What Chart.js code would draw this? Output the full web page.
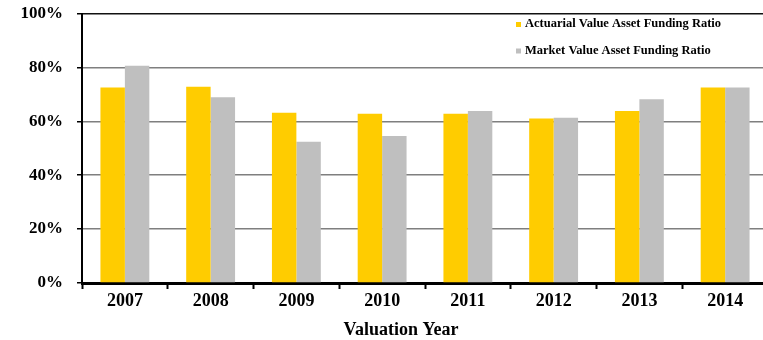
<!DOCTYPE html>
<html>
<head>
<meta charset="utf-8">
<script src="https://cdn.jsdelivr.net/npm/chart.js@4/dist/chart.umd.min.js"></script>
<style>
  html, body { margin: 0; padding: 0; background: #fff; overflow: hidden; }
  #wrap { width: 770px; height: 340px; }
</style>
</head>
<body>
<div id="wrap"><canvas id="fundingChart" width="770" height="340"></canvas></div>
<script>
const years = ["2007", "2008", "2009", "2010", "2011", "2012", "2013", "2014"];
const actuarialRatio = [72.5, 72.8, 63.2, 62.8, 62.8, 61.0, 63.8, 72.5];
const marketRatio = [80.6, 68.9, 52.4, 54.5, 63.8, 61.3, 68.2, 72.5];
const yTicks = [0, 20, 40, 60, 80, 100];
const xTitle = "Valuation Year";

const serif = "'Liberation Serif', 'Times New Roman', serif";

// legend sits inside the plot, top right
const legendInside = {
  id: "legendInside",
  afterDraw(chart) {
    const ctx = chart.ctx;
    ctx.save();
    ctx.font = "bold 12.5px " + serif;
    ctx.textBaseline = "alphabetic";
    chart.data.datasets.forEach((ds, i) => {
      const y = 27 + i * 26.5;
      ctx.fillStyle = ds.backgroundColor;
      ctx.fillRect(516, y - 5, 5, 5);
      ctx.fillStyle = "#000";
      ctx.fillText(ds.label, 525, y);
    });
    ctx.restore();
  }
};

// axis title, drawn under the year labels
const bottomTitle = {
  id: "bottomTitle",
  afterDraw(chart) {
    const ctx = chart.ctx;
    ctx.save();
    ctx.font = "bold 18px " + serif;
    ctx.fillStyle = "#000";
    ctx.textAlign = "center";
    ctx.textBaseline = "alphabetic";
    ctx.fillText(xTitle, 401, 335);
    ctx.restore();
  }
};

new Chart(document.getElementById("fundingChart"), {
  type: "bar",
  data: {
    labels: years,
    datasets: [
      {
        label: "Actuarial Value Asset Funding Ratio",
        data: actuarialRatio,
        backgroundColor: "#FFCC00"
      },
      {
        label: "Market Value Asset Funding Ratio",
        data: marketRatio,
        backgroundColor: "#BFBFBF"
      }
    ]
  },
  options: {
    responsive: false,
    animation: false,
    devicePixelRatio: 1,
    layout: { padding: { top: 13.5, right: 2, left: 0, bottom: 0 } },
    datasets: {
      bar: { categoryPercentage: 0.57, barPercentage: 1 }
    },
    plugins: {
      legend: { display: false },
      tooltip: { enabled: false }
    },
    scales: {
      x: {
        grid: {
          display: true,
          drawOnChartArea: false,
          drawTicks: true,
          tickLength: 6,
          tickColor: "#000",
          tickWidth: 2,
          offset: true
        },
        border: { display: true, color: "#000", width: 3 },
        ticks: {
          color: "#000",
          padding: 2,
          font: { family: serif, size: 18, weight: "bold" }
        },
        afterFit(scale) {
          scale.height = 57;
          scale.paddingLeft = 0;
          scale.paddingRight = 0;
        }
      },
      y: {
        min: 0,
        max: 100,
        afterBuildTicks(scale) {
          scale.ticks = yTicks.map(v => ({ value: v }));
        },
        grid: {
          color: ctx => (ctx.tick && ctx.tick.value === 100 ? "#111" : "#7F7F7F"),
          lineWidth: 1.5,
          tickLength: 5,
          tickColor: "#000",
          tickWidth: 1.5
        },
        border: { display: true, color: "#000", width: 2 },
        ticks: {
          color: "#000",
          padding: 14,
          font: { family: serif, size: 17, weight: "bold" },
          callback: v => v + "%"
        },
        afterFit(scale) {
          scale.width = 82;
          scale.paddingTop = 0;
          scale.paddingBottom = 0;
        }
      }
    }
  },
  plugins: [legendInside, bottomTitle]
});
</script>
</body>
</html>
